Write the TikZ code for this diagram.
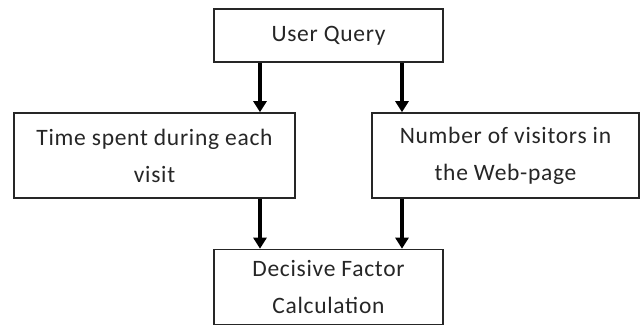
\documentclass[tikz,border=0pt]{standalone}
\usepackage{fontspec}
\setmainfont{Carlito}
\usetikzlibrary{arrows.meta}
\begin{document}
\begin{tikzpicture}[x=1pt,y=-1pt,
  box/.style={draw=black!85,line width=1.6pt,rectangle,inner sep=0pt,align=center,
    font=\fontsize{23.5}{37}\selectfont\addfontfeature{LetterSpace=3},text=black!85},
  arr/.style={line width=3.4pt,draw=black,-{Triangle[width=13pt,length=11pt]}}]
\useasboundingbox (0,0) rectangle (641,325);
\fill[white] (0,0) rectangle (641,325);
\node[box,minimum width=229pt,minimum height=53pt] (top) at (328.5,35.5) {User Query};
\node[box,minimum width=281pt,minimum height=85pt] (left) at (154.5,155.5) {Time spent during each\\visit};
\node[box,minimum width=267pt,minimum height=85pt] (right) at (505.5,155.5) {Number of visitors in\\the Web-page};
\node[box,minimum width=229pt,minimum height=75pt] (bot) at (328.5,287) {Decisive Factor\\Calculation};
\coordinate (cl) at (260,0);
\coordinate (cr) at (402,0);
\draw[arr] (top.south -| cl) -- (left.north -| cl);
\draw[arr] (top.south -| cr) -- (right.north -| cr);
\draw[arr] (left.south -| cl) -- (bot.north -| cl);
\draw[arr] (right.south -| cr) -- (bot.north -| cr);
\end{tikzpicture}
\end{document}
